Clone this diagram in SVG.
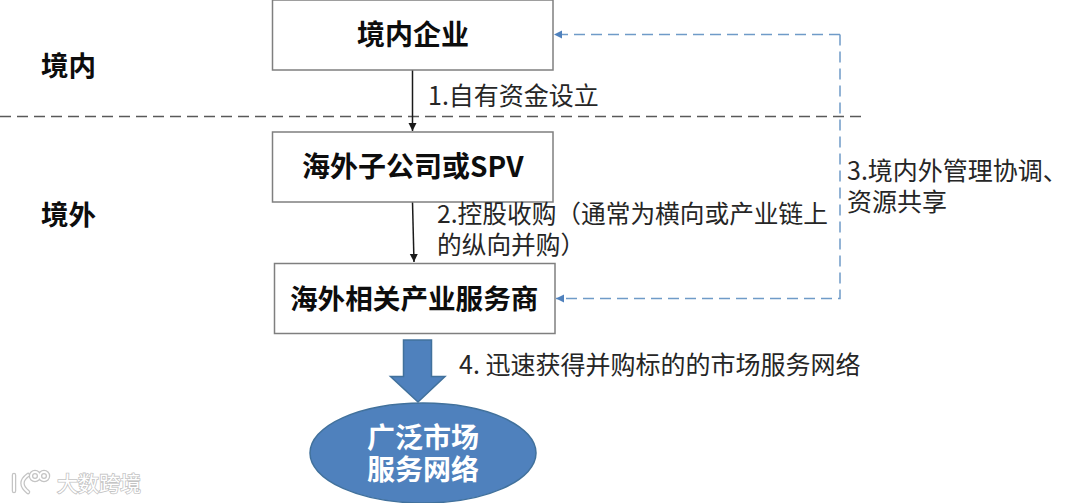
<svg xmlns="http://www.w3.org/2000/svg" width="1080" height="503" viewBox="0 0 1080 503">
<style>
text{font-family:"Noto Sans CJK SC","Noto Sans",sans-serif;fill:#262626}
.b{font-weight:700;font-size:28px;fill:#0d0d0d}
.l{font-size:25px}
.box{fill:#fff;stroke:#7f7f7f;stroke-width:1.5}
.w{font-weight:700;font-size:28px;fill:#fff;text-anchor:middle}
.wm{fill:none;stroke:#c4c4c4;stroke-width:4.500;stroke-linecap:round}
.wi{fill:none;stroke:#fff;stroke-width:2;stroke-linecap:round}
</style>
<defs>
<marker id="k" markerWidth="10" markerHeight="9" refX="8" refY="4" orient="auto" markerUnits="userSpaceOnUse"><path d="M0 0L8 4L0 8Z" fill="#1a1a1a"/></marker>
</defs>
<rect width="1080" height="503" fill="#fff"/>
<line x1="0" y1="116.5" x2="862" y2="116.5" stroke="#595959" stroke-width="1.5" stroke-dasharray="11 6"/>
<g id="connectors" fill="none">
<line x1="412.5" y1="70" x2="412.5" y2="131" stroke="#1a1a1a" stroke-width="1.5" marker-end="url(#k)"/>
<line x1="412.5" y1="202" x2="414" y2="262" stroke="#1a1a1a" stroke-width="1.5" marker-end="url(#k)"/>
<path d="M840 34.500H554M840 34.500V298.500H556" stroke="#6f9bc8" stroke-width="1.500" stroke-dasharray="11 6"/>
<path d="M562 30.500L554 34.500L562 38.500Z" fill="#4f81bd"/>
<path d="M564 294.500L556 298.500L564 302.500Z" fill="#4f81bd"/>
<path d="M403.500 340H431.500V376.500H445L418 402L390.500 376.500H403.500Z" fill="#4f81bd" stroke="#41719c" stroke-width="1.500"/>
</g>
<g id="region-in"><text class="b" x="41" y="76" font-size="27" style="font-size:27.5px">境内</text></g>
<g id="region-out"><text class="b" x="41" y="225" style="font-size:27.5px">境外</text></g>
<g id="n1"><rect class="box" x="272.500" y="0" width="280.500" height="70"/><text class="b" x="357" y="45">境内企业</text></g>
<g id="n2"><rect class="box" x="272.500" y="132" width="280.500" height="70"/><text class="b" x="302" y="177">海外子公司或SPV</text></g>
<g id="n3"><rect class="box" x="274.500" y="263.500" width="280.500" height="70"/><text class="b" x="290" y="309" style="font-size:27.600px">海外相关产业服务商</text></g>
<g id="n4"><ellipse cx="423" cy="453" rx="113" ry="50" fill="#4f81bd" stroke="#41719c" stroke-width="1.500"/><text class="w" x="423" y="448">广泛市场</text><text class="w" x="423" y="480">服务网络</text></g>
<g id="labels">
<text class="l" x="428" y="105">1.自有资金设立</text>
<text class="l" x="437" y="223" style="font-size:24.700px">2.控股收购（通常为横向或产业链上</text>
<text class="l" x="437" y="254" style="font-size:24.700px">的纵向并购）</text>
<text class="l" x="847" y="180">3.境内外管理协调、</text>
<text class="l" x="847" y="211">资源共享</text>
<text class="l" x="459" y="374">4. 迅速获得并购标的的市场服务网络</text>
</g>
<g id="watermark">
<g class="wm"><path d="M14 475V491M28 475Q17 483 28 492"/><circle cx="35" cy="476" r="4"/><circle cx="44" cy="476" r="4"/></g>
<g class="wi"><path d="M14 475V491M28 475Q17 483 28 492"/><circle cx="35" cy="476" r="4"/><circle cx="44" cy="476" r="4"/></g>
<text x="57" y="491" font-size="21" style="fill:#fff;stroke:#c4c4c4;stroke-width:1.600;paint-order:stroke">大数跨境</text>
</g>
</svg>
